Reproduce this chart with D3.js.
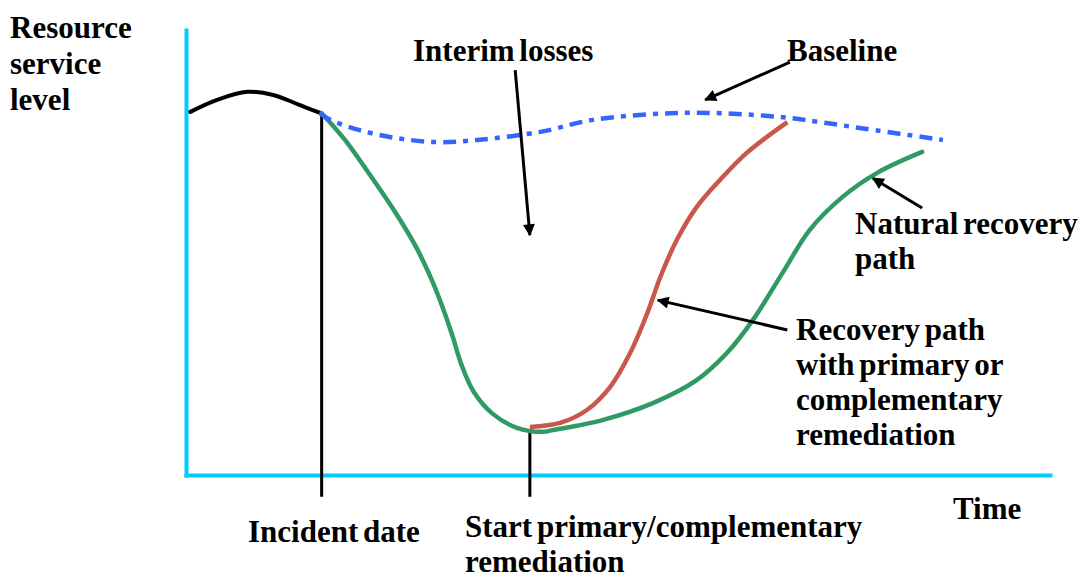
<!DOCTYPE html>
<html>
<head>
<meta charset="utf-8">
<script src="https://cdn.jsdelivr.net/npm/d3@7"></script>
<style>
  html, body { margin: 0; padding: 0; background: #fff; }
  svg { display: block; }
</style>
</head>
<body>
<svg id="chart" width="1082" height="576"></svg>
<script>
// ---- data (time units 0..100, service level 0..100) ----
const preT = [0.5, 3.6, 7.1, 10.1, 13.2, 15.6];
const preL = [81.6, 84.3, 86.1, 85.4, 83.1, 81.3];

const baseT = [15.5, 16.7, 20.1, 24.4, 29.1, 33.7, 41.0, 47.1, 56.0, 61.8, 69.1, 73.4, 78.6, 87.6];
const baseL = [81.3, 79.8, 77.5, 75.7, 74.8, 75.3, 77.1, 79.8, 81.3, 81.3, 80.4, 79.3, 77.8, 75.3];

const naturalT = [15.7, 18.4, 21.3, 24.2, 26.5, 28.2, 29.6, 30.8, 31.9, 33.3, 35.4, 38.3, 41.3,
                  42.5, 48.3, 54.1, 59.1, 62.6, 65.6, 69.1, 72.2, 76.0, 80.0, 85.2];
const naturalL = [81.3, 75.3, 67.4, 59.1, 51.7, 44.9, 38.2, 31.5, 24.7, 18.7, 13.9, 10.6, 9.7,
                  10.1, 12.4, 16.2, 21.3, 27.4, 34.8, 45.6, 55.1, 62.5, 67.9, 72.6];

const remedT = [39.8, 43.3, 46.4, 49.1, 51.4, 53.4, 54.9, 56.8, 59.1, 61.8, 64.9, 69.6];
const remedL = [10.8, 11.7, 14.6, 19.8, 27.4, 36.4, 44.5, 52.8, 60.2, 66.3, 72.4, 79.3];

const eventT = [15.7, 39.8];          // incident date, start of remediation
const eventTopL = [81.3, 9.7];
const eventBottomL = -4.9;

// annotation arrows: from (T0,L0) to (T1,L1)
const arrowT0 = [38.1, 69.9, 85.2, 69.6];
const arrowL0 = [91.0, 92.8, 60.0, 32.6];
const arrowT1 = [39.8, 60.1, 79.5, 54.6];
const arrowL1 = [53.9, 84.3, 66.7, 39.3];

// ---- drawing ----
const svg = d3.select("#chart");
const x = d3.scaleLinear().domain([0, 100]).range([186, 1050]);
const y = d3.scaleLinear().domain([0, 100]).range([475, 30]);

const zip = (ts, ls) => ts.map((t, i) => [t, ls[i]]);
const line = d3.line().x(d => x(d[0])).y(d => y(d[1])).curve(d3.curveCatmullRom.alpha(0.5));

svg.append("defs").append("marker")
  .attr("id", "arrow")
  .attr("viewBox", "0 0 10 10")
  .attr("refX", 9).attr("refY", 5)
  .attr("markerUnits", "userSpaceOnUse")
  .attr("markerWidth", 15).attr("markerHeight", 12)
  .attr("orient", "auto")
  .append("path").attr("d", "M0,0 L10,5 L0,10 z").attr("fill", "#000");

// axes (no ticks)
const axisColor = "#00ccff";
const gx = svg.append("g").attr("transform", `translate(0,${y(0)})`)
  .call(d3.axisBottom(x).tickValues([]).tickSizeOuter(0));
const gy = svg.append("g").attr("transform", `translate(${x(0)},0)`)
  .call(d3.axisLeft(y).tickValues([]).tickSizeOuter(0));
[gx, gy].forEach(g => g.select(".domain")
  .attr("stroke", axisColor).attr("stroke-width", 4).attr("stroke-linecap", "square"));

// event vertical lines
svg.selectAll("line.event").data(eventT).enter().append("line")
  .attr("class", "event")
  .attr("x1", d => x(d)).attr("x2", d => x(d))
  .attr("y1", (d, i) => y(eventTopL[i])).attr("y2", y(eventBottomL))
  .attr("stroke", "#000").attr("stroke-width", 3);

// pre-incident curve
svg.append("path").attr("d", line(zip(preT, preL)))
  .attr("fill", "none").attr("stroke", "#000").attr("stroke-width", 4).attr("stroke-linecap", "round");

// natural recovery (green)
svg.append("path").attr("d", line(zip(naturalT, naturalL)))
  .attr("fill", "none").attr("stroke", "#2f9a63").attr("stroke-width", 4.5).attr("stroke-linecap", "round");

// remediation path (red)
svg.append("path").attr("d", line(zip(remedT, remedL)))
  .attr("fill", "none").attr("stroke", "#c9574b").attr("stroke-width", 4.5).attr("stroke-linecap", "butt");

// baseline (blue dash-dot)
svg.append("path").attr("d", line(zip(baseT, baseL)))
  .attr("fill", "none").attr("stroke", "#3366ff").attr("stroke-width", 4.5)
  .attr("stroke-dasharray", "13 7 5 7");

// annotation arrows
svg.selectAll("line.arrow").data(arrowT0).enter().append("line")
  .attr("class", "arrow")
  .attr("x1", d => x(d)).attr("y1", (d, i) => y(arrowL0[i]))
  .attr("x2", (d, i) => x(arrowT1[i])).attr("y2", (d, i) => y(arrowL1[i]))
  .attr("stroke", "#000").attr("stroke-width", 3)
  .attr("marker-end", "url(#arrow)");

// text labels
const labels = [
  { lines: ["Resource", "service", "level"], x: 10, y: 38, lh: 36 },
  { lines: ["Interim losses"], x: 413, y: 61, lh: 36 },
  { lines: ["Baseline"], x: 787, y: 61, lh: 36 },
  { lines: ["Natural recovery", "path"], x: 855, y: 234, lh: 35 },
  { lines: ["Recovery path", "with primary or", "complementary", "remediation"], x: 796, y: 340, lh: 35 },
  { lines: ["Time"], x: 953, y: 519, lh: 36 },
  { lines: ["Incident date"], x: 248, y: 542, lh: 36 },
  { lines: ["Start primary/complementary", "remediation"], x: 465, y: 537, lh: 35 }
];
labels.forEach(l => {
  const t = svg.append("text").attr("x", l.x).attr("y", l.y)
    .style("font-family", '"Liberation Serif", "Times New Roman", serif')
    .style("font-weight", "bold").style("font-size", "31px").style("fill", "#000")
    .style("word-spacing", "-3px");
  l.lines.forEach((s, i) => t.append("tspan").attr("x", l.x).attr("y", l.y + i * l.lh).text(s));
});
</script>
</body>
</html>
